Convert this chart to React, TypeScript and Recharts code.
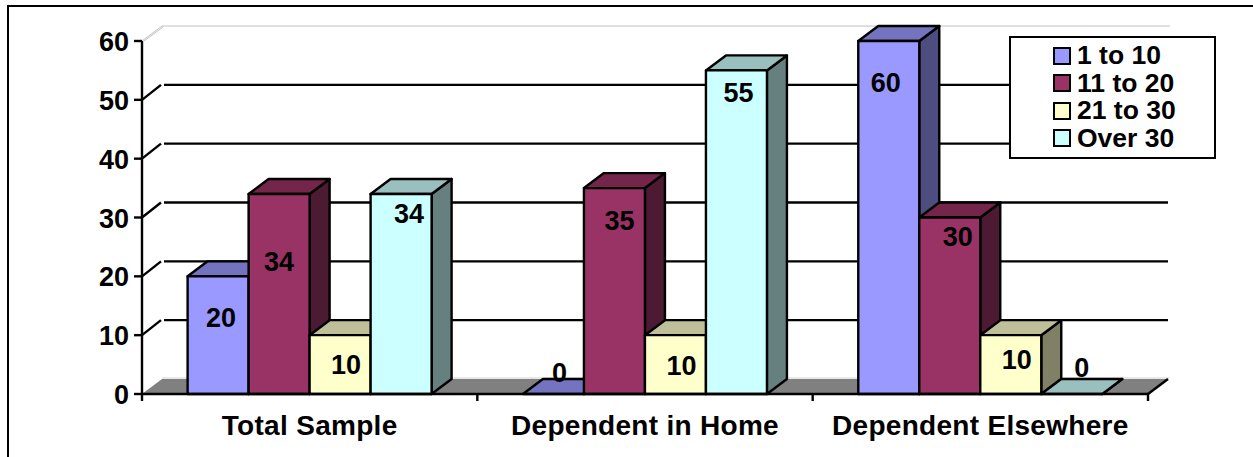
import React from 'react';
import {
  BarChart,
  Bar,
  XAxis,
  YAxis,
  CartesianGrid,
  Legend,
  LabelList
} from 'recharts';

const categories = ['Total Sample', 'Dependent in Home', 'Dependent Elsewhere'];
const seriesNames = ['1 to 10', '11 to 20', '21 to 30', 'Over 30'];

const oneToTen = [20, 0, 60];
const elevenToTwenty = [34, 35, 30];
const twentyOneToThirty = [10, 10, 10];
const overThirty = [34, 55, 0];
const seriesValues = [oneToTen, elevenToTwenty, twentyOneToThirty, overThirty];

const yTicks = [0, 10, 20, 30, 40, 50, 60];

const frontColors = ['#9999FF', '#993366', '#FFFFCC', '#CCFFFF'];
const topColors = ['#7373BF', '#732649', '#BFBF99', '#99BFBF'];
const sideColors = ['#4D4D80', '#4D1A33', '#808066', '#668080'];

// hand-placed value labels: [dx from bar centre, dy from bar top], per series then category
const labelNudges = [
  [[3, 42], [6, -21], [-3, 42]],
  [[0, 68], [5, 33], [8, 19]],
  [[6, 30], [6, 31], [6, 25]],
  [[8, 20], [2, 23], [10, -26]]
];

const chartData = categories.map((name, c) => {
  const row: Record<string, string | number> = { name };
  seriesNames.forEach((s, i) => {
    row[s] = seriesValues[i][c];
  });
  return row;
});

const FONT = '"Liberation Sans", Arial, sans-serif';
const LINE = 2.4;
const DEPTH_X = 20;
const DEPTH_Y = 15;
const PLOT_LEFT = 142;
const PLOT_RIGHT = 1148;
const PLOT_TOP = 41;
const PLOT_BOTTOM = 394;
const BAND = (PLOT_RIGHT - PLOT_LEFT) / categories.length;

const pts = (list: number[][]) => list.map((p) => p.join(',')).join(' ');

// front, top and side faces of one extruded bar
const renderBox = (series: number) => (props: any) => {
  const { x, y, width, height } = props;
  const right = x + width;
  const bottom = y + height;
  return (
    <g stroke="#000" strokeWidth={LINE} strokeLinejoin="round">
      <polygon
        points={pts([[right, y], [right + DEPTH_X, y - DEPTH_Y], [right + DEPTH_X, bottom - DEPTH_Y], [right, bottom]])}
        fill={sideColors[series]}
      />
      <polygon
        points={pts([[x, y], [x + DEPTH_X, y - DEPTH_Y], [right + DEPTH_X, y - DEPTH_Y], [right, y]])}
        fill={topColors[series]}
      />
      <rect x={x} y={y} width={width} height={height} fill={frontColors[series]} />
    </g>
  );
};

const renderValueLabel = (series: number) => (props: any) => {
  const { x, y, width, value, index } = props;
  const [dx, dy] = labelNudges[series][index];
  return (
    <text
      x={x + width / 2 + dx}
      y={y + dy}
      textAnchor="middle"
      dominantBaseline="central"
      fontFamily={FONT}
      fontSize={27}
      fontWeight="bold"
      fill="#000"
    >
      {value}
    </text>
  );
};

// back wall line plus the short diagonal joining it to the axis
const renderWallLine = (props: any) => {
  const { y1, x1, key } = props;
  const wallY = y1 - DEPTH_Y;
  const isFloor = Math.abs(y1 - PLOT_BOTTOM) < 1;
  const isCeiling = Math.abs(y1 - PLOT_TOP) < 1;
  if (isFloor) {
    return (
      <g key={key}>
        <polygon
          points={pts([[x1, y1], [x1 + DEPTH_X, wallY], [PLOT_RIGHT + DEPTH_X, wallY], [PLOT_RIGHT, y1]])}
          fill="#808080"
        />
        <line x1={x1 + DEPTH_X} y1={wallY - 1} x2={PLOT_RIGHT + DEPTH_X + 1} y2={wallY - 1} stroke="#D0D0D0" />
        <line x1={PLOT_RIGHT} y1={y1} x2={PLOT_RIGHT + DEPTH_X} y2={wallY} stroke="#000" strokeWidth={LINE} />
      </g>
    );
  }
  if (isCeiling) {
    return (
      <g key={key} stroke="#C0C0C0" fill="none">
        <line x1={x1} y1={y1} x2={x1 + DEPTH_X} y2={wallY} />
        <line x1={x1 + 2} y1={y1} x2={x1 + DEPTH_X + 1} y2={wallY + 1} />
        <line x1={x1 + DEPTH_X} y1={wallY} x2={PLOT_RIGHT + DEPTH_X + 2} y2={wallY} />
      </g>
    );
  }
  return (
    <g key={key} stroke="#000" strokeWidth={LINE}>
      <line x1={x1} y1={y1} x2={x1 + DEPTH_X - 1} y2={wallY} />
      <line x1={x1 + DEPTH_X + 2} y1={wallY} x2={PLOT_RIGHT + DEPTH_X} y2={wallY} />
    </g>
  );
};

// category name with tick marks on the band edges rather than the centre
const CategoryTick = (props: any) => {
  const { x, payload, index } = props;
  const left = x - BAND / 2;
  const last = index === categories.length - 1;
  return (
    <g>
      <line x1={left} y1={PLOT_BOTTOM} x2={left} y2={PLOT_BOTTOM + 7} stroke="#000" strokeWidth={LINE} />
      {last && (
        <line x1={left + BAND} y1={PLOT_BOTTOM} x2={left + BAND} y2={PLOT_BOTTOM + 7} stroke="#000" strokeWidth={LINE} />
      )}
      <text
        x={x}
        y={435}
        textAnchor="middle"
        fontFamily={FONT}
        fontSize={28}
        letterSpacing={0.3}
        fontWeight="bold"
        fill="#000"
      >
        {payload.value}
      </text>
    </g>
  );
};

const YTick = (props: any) => {
  const { x, y, payload } = props;
  return (
    <text
      x={x}
      y={y + 1}
      textAnchor="end"
      dominantBaseline="central"
      fontFamily={FONT}
      fontSize={27}
      fontWeight="bold"
      fill="#000"
    >
      {payload.value}
    </text>
  );
};

const LegendBox = ({ payload }: any) => (
  <div
    style={{
      boxSizing: 'border-box',
      width: 207,
      height: 123,
      background: '#fff',
      border: '2px solid #000',
      paddingTop: 4,
      paddingLeft: 42,
      fontFamily: FONT,
      fontSize: 26.5,
      fontWeight: 'bold',
      lineHeight: '27.5px'
    }}
  >
    {(payload || []).map((entry: any) => (
      <div key={entry.value} style={{ display: 'flex', alignItems: 'center', height: 27.5 }}>
        <span
          style={{
            boxSizing: 'border-box',
            width: 18,
            height: 18,
            marginRight: 6,
            background: entry.color,
            border: '2px solid #000'
          }}
        />
        {entry.value}
      </div>
    ))}
  </div>
);

export default function App() {
  return (
    <div style={{ position: 'absolute', left: 0, top: 0, width: 1253, height: 457, overflow: 'hidden', background: '#fff' }}>
      <div
        style={{
          position: 'absolute',
          left: 7,
          top: 5,
          width: 1400,
          height: 600,
          border: '2px solid #000'
        }}
      />
      <div style={{ position: 'absolute', left: 0, top: 0 }}>
        <BarChart
          width={1253}
          height={457}
          data={chartData}
          barCategoryGap="13.6%"
          barGap={0}
          margin={{ top: PLOT_TOP, right: 1253 - PLOT_RIGHT, left: 82, bottom: 20 }}
          style={{ overflow: 'visible' }}
        >
          <CartesianGrid vertical={false} horizontal={renderWallLine} />
          <XAxis
            dataKey="name"
            interval={0}
            height={43}
            axisLine={{ stroke: '#000', strokeWidth: LINE }}
            tickLine={false}
            tick={<CategoryTick />}
          />
          <YAxis
            width={60}
            domain={[0, 60]}
            ticks={yTicks}
            interval={0}
            axisLine={{ stroke: '#000', strokeWidth: LINE }}
            tickLine={{ stroke: '#000', strokeWidth: LINE }}
            tickSize={8}
            tickMargin={5}
            tick={<YTick />}
          />
          <Legend
            layout="vertical"
            align="center"
            verticalAlign="middle"
            itemSorter={null}
            wrapperStyle={{ left: 1009, top: 36, width: 207 }}
            content={<LegendBox />}
          />
          {seriesNames.map((s, i) => (
            <Bar key={s} dataKey={s} fill={frontColors[i]} isAnimationActive={false} shape={renderBox(i)}>
              <LabelList dataKey={s} content={renderValueLabel(i)} />
            </Bar>
          ))}
        </BarChart>
      </div>
    </div>
  );
}
